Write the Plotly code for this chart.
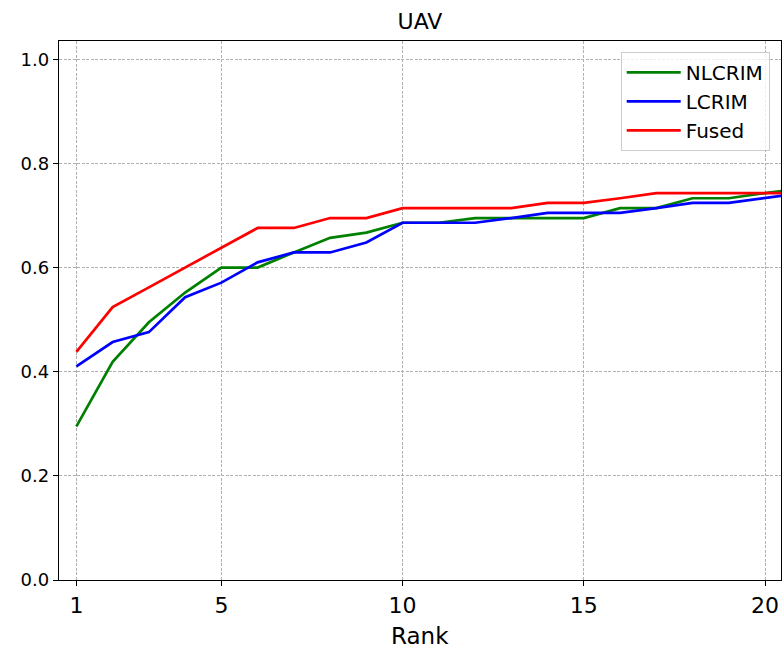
import plotly.graph_objects as go

ranks = list(range(1, 22))
nlcrim = [0.295, 0.419, 0.495, 0.552, 0.600, 0.600, 0.629, 0.657, 0.667, 0.686, 0.686,
          0.695, 0.695, 0.695, 0.695, 0.714, 0.714, 0.733, 0.733, 0.743, 0.752]
lcrim = [0.410, 0.457, 0.476, 0.543, 0.571, 0.610, 0.629, 0.629, 0.648, 0.686, 0.686,
         0.686, 0.695, 0.705, 0.705, 0.705, 0.714, 0.724, 0.724, 0.733, 0.743]
fused = [0.438, 0.524, 0.562, 0.600, 0.638, 0.676, 0.676, 0.695, 0.695, 0.714, 0.714,
         0.714, 0.714, 0.724, 0.724, 0.733, 0.743, 0.743, 0.743, 0.743, 0.743]
x_ticks = [1, 5, 10, 15, 20]
y_ticks = [0.0, 0.2, 0.4, 0.6, 0.8, 1.0]

series = [("NLCRIM", nlcrim, "green"), ("LCRIM", lcrim, "blue"), ("Fused", fused, "red")]

FONT = "DejaVu Sans"
fig = go.Figure()
for name, vals, col in series:
    fig.add_trace(go.Scatter(x=ranks, y=vals, mode="lines", name=name,
                             line=dict(color=col, width=2.7)))

axis_common = dict(showline=True, linecolor="black", linewidth=1.4, mirror=True,
                   ticks="outside", ticklen=5, tickwidth=1.3, tickcolor="black",
                   showgrid=True, gridcolor="#b0b0b0", gridwidth=0.8,
                   griddash="3px,1.5px", zeroline=False)

fig.update_xaxes(range=[0.52, 20.44], tickvals=x_ticks,
                 tickfont=dict(family=FONT, size=22, color="black"), **axis_common)
fig.update_yaxes(range=[0, 1.035], tickvals=y_ticks, tickformat=".1f",
                 tickfont=dict(family=FONT, size=18, color="black"), **axis_common)

fig.update_layout(
    width=783, height=650,
    margin=dict(l=59, r=2, t=41, b=70),
    plot_bgcolor="white", paper_bgcolor="white",
    font=dict(family=FONT, color="black"),
    title=dict(text="UAV", x=0.5, xref="paper", y=1 - 21.7 / 650, yref="container",
               xanchor="center", yanchor="middle",
               font=dict(family=FONT, size=22, color="black")),
    legend=dict(x=0.778, y=0.98, xanchor="left", yanchor="top",
                bgcolor="rgba(255,255,255,0.8)", bordercolor="#cccccc", borderwidth=1,
                font=dict(family=FONT, size=20, color="black"),
                itemwidth=54, tracegroupgap=0),
    showlegend=True,
    annotations=[dict(text="Rank", x=0.5, xref="paper", y=-56 / 539, yref="paper",
                      xanchor="center", yanchor="middle", showarrow=False,
                      font=dict(family=FONT, size=23, color="black"))],
)

fig.write_html("out.html")
